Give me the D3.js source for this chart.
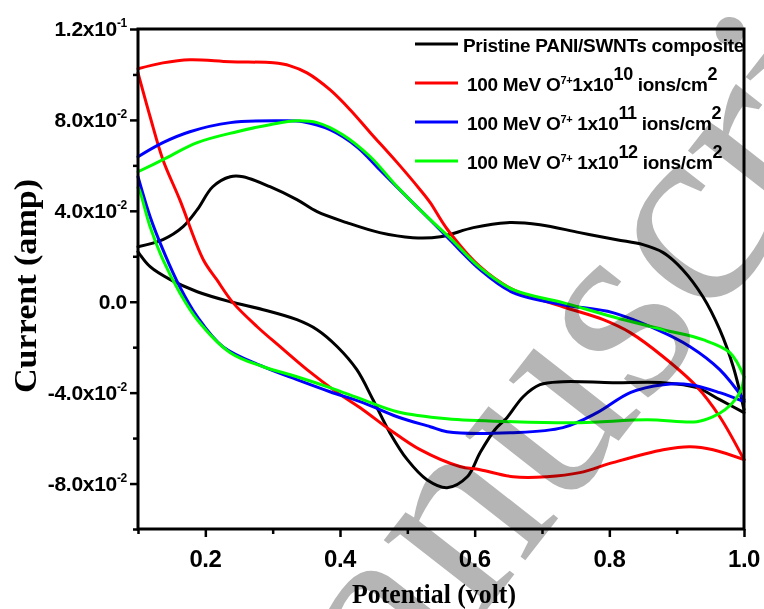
<!DOCTYPE html>
<html lang="en">
<head>
<meta charset="utf-8">
<script src="https://d3js.org/d3.v7.min.js"></script>
<style>
  body { margin: 0; background: #fff; }
  svg text { font-family: "Liberation Sans", Arial, sans-serif; font-weight: bold; fill: #000; white-space: pre; }
  svg text.title { font-family: "Liberation Serif", "Times New Roman", serif; }
</style>
</head>
<body>
<script>
// potential (V), current (A); each loop = forward + reverse sweep
const blackFwd = [[0.100,0.0242],[0.137,0.0273],[0.167,0.0330],[0.188,0.0405],[0.211,0.0506],[0.237,0.0550],[0.256,0.0550],[0.296,0.0506],[0.336,0.0449],[0.366,0.0396],[0.410,0.0348],[0.459,0.0304],[0.508,0.0282],[0.549,0.0286],[0.598,0.0326],[0.648,0.0348],[0.697,0.0339],[0.756,0.0304],[0.811,0.0273],[0.850,0.0251],[0.880,0.0216],[0.909,0.0141],[0.939,0.0022],[0.964,-0.0123],[0.984,-0.0286],[1.000,-0.0475]];
const blackRev = [[1.000,-0.0488],[0.964,-0.0431],[0.930,-0.0378],[0.880,-0.0356],[0.805,-0.0356],[0.731,-0.0352],[0.697,-0.0365],[0.672,-0.0418],[0.648,-0.0510],[0.630,-0.0563],[0.608,-0.0664],[0.589,-0.0770],[0.559,-0.0818],[0.529,-0.0783],[0.500,-0.0695],[0.474,-0.0576],[0.449,-0.0431],[0.425,-0.0299],[0.396,-0.0198],[0.366,-0.0123],[0.336,-0.0079],[0.286,-0.0035],[0.237,0.0000],[0.188,0.0044],[0.148,0.0097],[0.118,0.0154],[0.100,0.0220]];

const redFwd = [[0.100,0.1025],[0.137,0.1051],[0.177,0.1065],[0.237,0.1056],[0.301,0.1051],[0.326,0.1038],[0.351,0.1007],[0.385,0.0933],[0.415,0.0845],[0.445,0.0744],[0.485,0.0612],[0.519,0.0493],[0.534,0.0436],[0.559,0.0320],[0.608,0.0154],[0.657,0.0053],[0.731,-0.0022],[0.791,-0.0079],[0.831,-0.0136],[0.880,-0.0242],[0.930,-0.0374],[0.964,-0.0506],[1.000,-0.0695]];
const redRev = [[1.000,-0.0695],[0.954,-0.0651],[0.920,-0.0638],[0.880,-0.0651],[0.805,-0.0708],[0.756,-0.0752],[0.707,-0.0770],[0.657,-0.0770],[0.608,-0.0739],[0.578,-0.0725],[0.519,-0.0651],[0.474,-0.0563],[0.434,-0.0475],[0.396,-0.0400],[0.351,-0.0299],[0.311,-0.0198],[0.277,-0.0110],[0.241,-0.0004],[0.217,0.0097],[0.197,0.0185],[0.162,0.0449],[0.137,0.0625],[0.118,0.0814],[0.100,0.1007]];

const blueFwd = [[0.100,0.0638],[0.137,0.0700],[0.177,0.0748],[0.237,0.0788],[0.311,0.0796],[0.345,0.0792],[0.385,0.0757],[0.425,0.0682],[0.459,0.0581],[0.508,0.0436],[0.534,0.0360],[0.563,0.0273],[0.608,0.0141],[0.657,0.0040],[0.731,-0.0013],[0.805,-0.0048],[0.871,-0.0123],[0.920,-0.0198],[0.964,-0.0299],[1.000,-0.0431]];
const blueRev = [[1.000,-0.0440],[0.964,-0.0400],[0.920,-0.0365],[0.880,-0.0365],[0.831,-0.0400],[0.782,-0.0488],[0.731,-0.0554],[0.657,-0.0576],[0.559,-0.0572],[0.534,-0.0550],[0.485,-0.0506],[0.434,-0.0444],[0.385,-0.0396],[0.336,-0.0343],[0.286,-0.0286],[0.226,-0.0198],[0.188,-0.0066],[0.162,0.0066],[0.137,0.0229],[0.118,0.0374],[0.100,0.0550]];

const greenFwd = [[0.100,0.0572],[0.137,0.0625],[0.188,0.0700],[0.247,0.0748],[0.296,0.0779],[0.336,0.0796],[0.366,0.0788],[0.404,0.0735],[0.445,0.0638],[0.485,0.0506],[0.534,0.0361],[0.563,0.0282],[0.608,0.0150],[0.657,0.0053],[0.731,-0.0004],[0.805,-0.0066],[0.880,-0.0123],[0.939,-0.0167],[0.979,-0.0224],[1.000,-0.0330]];
const greenRev = [[1.000,-0.0330],[0.996,-0.0385],[0.987,-0.0431],[0.972,-0.0475],[0.954,-0.0506],[0.930,-0.0528],[0.856,-0.0519],[0.756,-0.0532],[0.657,-0.0528],[0.559,-0.0515],[0.485,-0.0484],[0.434,-0.0431],[0.385,-0.0378],[0.336,-0.0330],[0.286,-0.0286],[0.237,-0.0224],[0.188,-0.0079],[0.162,0.0040],[0.137,0.0185],[0.118,0.0330],[0.103,0.0484],[0.100,0.0502]];

const seriesColors = ["#000000", "#ff0000", "#0000ff", "#00ff00"];

// legend entries: [text, kind] with kind n = normal, s = small superscript, b = big superscript
const legendParts = [
    [["Pristine PANI/SWNTs composite", "n"]],
    [["100 MeV O", "n"], ["7+", "s"], ["1x10", "n"], ["10", "b"], [" ions/cm", "n"], ["2", "b"]],
    [["100 MeV O", "n"], ["7+", "s"], [" 1x10", "n"], ["11", "b"], [" ions/cm", "n"], ["2", "b"]],
    [["100 MeV O", "n"], ["7+", "s"], [" 1x10", "n"], ["12", "b"], [" ions/cm", "n"], ["2", "b"]]
];

const yMajor = [-0.08, -0.04, 0, 0.04, 0.08, 0.12];
const yMinor = [-0.1, -0.06, -0.02, 0.02, 0.06, 0.1];
const yLabelBase = ["-8.0x10", "-4.0x10", "0.0", "4.0x10", "8.0x10", "1.2x10"];
const yLabelExp = ["-2", "-2", "", "-2", "-2", "-1"];
const xMajor = [0.2, 0.4, 0.6, 0.8, 1.0];
const xMinor = [0.1, 0.3, 0.5, 0.7, 0.9];
const xLabels = ["0.2", "0.4", "0.6", "0.8", "1.0"];

const width = 764, height = 609;
const plotLeft = 138, plotRight = 744, plotTop = 29, plotBottom = 529;

const svg = d3.select("body").append("svg")
    .attr("width", width)
    .attr("height", height);

const x = d3.scaleLinear().domain([0.1, 1.0]).range([plotLeft, plotRight]);
const y = d3.scaleLinear().domain([-0.1, 0.12]).range([plotBottom, plotTop]);

// curves
const line = d3.line()
    .x(d => x(d[0]))
    .y(d => y(d[1]))
    .curve(d3.curveCatmullRom.alpha(0.5));

const loops = [[blackFwd, blackRev], [redFwd, redRev], [blueFwd, blueRev], [greenFwd, greenRev]];
loops.forEach(function(pair, i) {
    pair.forEach(function(branch) {
        svg.append("path")
            .attr("d", line(branch))
            .attr("fill", "none")
            .attr("stroke", seriesColors[i])
            .attr("stroke-width", 3)
            .attr("stroke-linejoin", "round")
            .attr("stroke-linecap", "round");
    });
});

// frame
svg.append("rect")
    .attr("x", plotLeft).attr("y", plotTop)
    .attr("width", plotRight - plotLeft).attr("height", plotBottom - plotTop)
    .attr("fill", "none").attr("stroke", "#000").attr("stroke-width", 3);

// axes (ticks only, labels drawn below)
function tickAxis(axis, vals, size) {
    return axis.tickValues(vals).tickSize(size).tickFormat("");
}
[[yMajor, 8], [yMinor, 5]].forEach(function(t) {
    const g = svg.append("g").attr("transform", "translate(" + plotLeft + ",0)")
        .call(tickAxis(d3.axisLeft(y), t[0], t[1]));
    g.select(".domain").remove();
    g.selectAll("line").attr("stroke-width", 2.5);
});
[[xMajor, 8], [xMinor, 5]].forEach(function(t) {
    const g = svg.append("g").attr("transform", "translate(0," + plotBottom + ")")
        .call(tickAxis(d3.axisBottom(x), t[0], t[1]));
    g.select(".domain").remove();
    g.selectAll("line").attr("stroke-width", 2.5);
});

// y tick labels with superscript exponent
yMajor.forEach(function(v, i) {
    const t = svg.append("text")
        .attr("x", 127)
        .attr("y", y(v) + 7)
        .attr("text-anchor", "end")
        .style("font-size", "21px")
        .style("letter-spacing", "-0.3px");
    t.append("tspan").text(yLabelBase[i]);
    if (yLabelExp[i]) {
        t.append("tspan").attr("dy", -9).style("font-size", "12px").text(yLabelExp[i]);
    }
});

// x tick labels
svg.selectAll(".xlab")
    .data(xMajor)
    .enter()
    .append("text")
    .attr("x", d => x(d))
    .attr("y", 567)
    .attr("text-anchor", "middle")
    .style("font-size", "24px")
    .style("letter-spacing", "-0.5px")
    .text((d, i) => xLabels[i]);

// axis titles
svg.append("text")
    .attr("class", "title")
    .attr("transform", "translate(36,286) rotate(-90)")
    .attr("text-anchor", "middle")
    .attr("textLength", 214)
    .attr("lengthAdjust", "spacingAndGlyphs")
    .style("font-size", "32px")
    .text("Current (amp)");

svg.append("text")
    .attr("class", "title")
    .attr("x", 434)
    .attr("y", 603)
    .attr("text-anchor", "middle")
    .attr("textLength", 164)
    .attr("lengthAdjust", "spacingAndGlyphs")
    .style("font-size", "27px")
    .text("Potential (volt)");

// legend
const legendY = [44, 83, 122, 161];
legendParts.forEach(function(parts, i) {
    svg.append("line")
        .attr("x1", 415).attr("x2", 458)
        .attr("y1", legendY[i]).attr("y2", legendY[i])
        .attr("stroke", seriesColors[i])
        .attr("stroke-width", 3);
    const t = svg.append("text")
        .attr("x", i === 0 ? 463 : 467)
        .attr("y", legendY[i] + 8)
        .style("font-size", "19px")
        .style("letter-spacing", "-0.3px");
    let shift = 0;
    parts.forEach(function(p) {
        const raise = p[1] === "s" ? 7 : (p[1] === "b" ? 11 : 0);
        t.append("tspan")
            .attr("dy", shift - raise)
            .style("font-size", p[1] === "s" ? "11px" : (p[1] === "b" ? "18px" : "19px"))
            .text(p[0]);
        shift = raise;
    });
});

// watermark
svg.append("text")
    .attr("class", "title")
    .attr("transform", "translate(256,905) rotate(-52)")
    .style("font-size", "270px")
    .style("font-weight", "normal")
    .style("fill", "#b5b5b5")
    .style("mix-blend-mode", "multiply")
    .text("Manuscript");
</script>
</body>
</html>
